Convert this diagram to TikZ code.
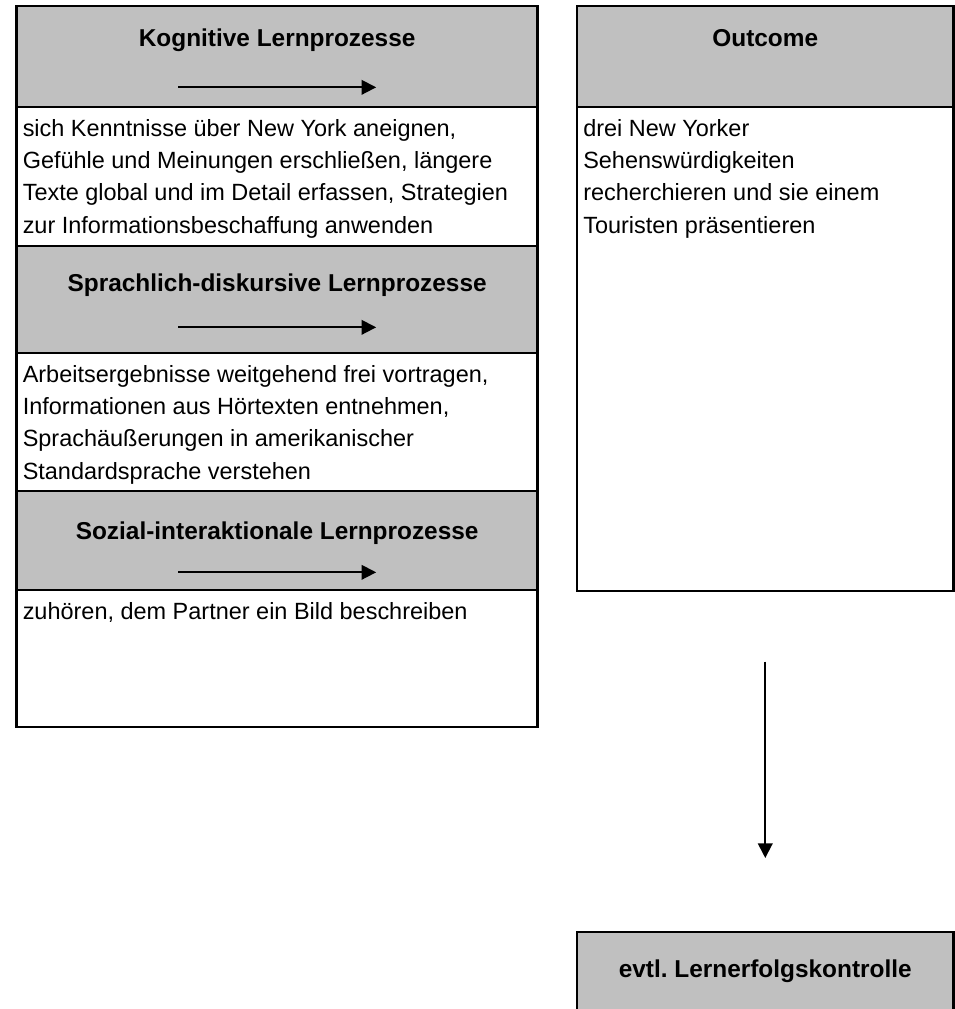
\documentclass[tikz,border=0pt]{standalone}
\usepackage{fontspec}
\setmainfont{Liberation Sans}
\usetikzlibrary{positioning,arrows.meta}
\definecolor{headgray}{RGB}{192,192,192}
\tikzset{
  cellbox/.style={draw,line width=2.2pt,outer sep=0pt,inner sep=0pt,minimum width=391pt},
  headbox/.style={cellbox,fill=headgray},
  headtitle/.style={inner sep=0pt,text height=13pt,text depth=3.5pt,font=\bfseries\fontsize{18.3}{22}\selectfont},
  bodytext/.style={anchor=north west,align=left,inner xsep=4.5pt,inner ysep=4.8pt,font=\fontsize{17.6}{24.2}\selectfont},
  harrow/.style={line width=1.4pt,-{Triangle[length=11pt,width=11pt]}},
}
\frenchspacing

\begin{document}
\begin{tikzpicture}[x=0.75pt,y=-0.75pt]
\useasboundingbox (0,0) rectangle (955,1009);
\node[headbox,anchor=north west,minimum height=75.75pt] (kog) at (16.5,6) {};
\node[cellbox,below=0pt of kog,minimum height=104.25pt] (kogtxt) {};
\node[headbox,below=0pt of kogtxt,minimum height=80.25pt] (sprach) {};
\node[cellbox,below=0pt of sprach,minimum height=103.5pt] (sprachtxt) {};
\node[headbox,below=0pt of sprachtxt,minimum height=74.25pt] (sozial) {};
\node[cellbox,below=0pt of sozial,minimum height=102.75pt] (sozialtxt) {};
\node[headbox,anchor=north west,minimum width=282.4pt,minimum height=75.75pt] (out) at (577,6) {};
\node[cellbox,below=0pt of out,minimum width=282.4pt,minimum height=363pt] (outtxt) {};
\node[headbox,anchor=north west,minimum width=282.4pt,minimum height=81pt] (kontr) at (577,932) {};
\foreach \n/\d/\t in {kog/26/Kognitive Lernprozesse,sprach/29/Sprachlich-diskursive Lernprozesse,sozial/31.3/Sozial-interaktionale Lernprozesse,out/26/Outcome,kontr/29/evtl. Lernerfolgskontrolle}
  \node[headtitle] (\n-title) at ([yshift=-\d pt]\n.north) {\t};
\foreach \n in {kog,sprach,sozial} {
  \coordinate (\n-a) at ([xshift=-74.25pt,yshift=-61pt]\n.north);
  \coordinate (\n-b) at ([xshift=74.25pt,yshift=-61pt]\n.north);
  \draw[harrow] (\n-a) -- (\n-b);
}
\node[bodytext] (kog-text) at (kogtxt.north west) {\strut sich Kenntnisse über New York aneignen,\\Gefühle und Meinungen erschließen, längere\\Texte global und im Detail erfassen, Strategien\\zur Informationsbeschaffung anwenden};
\node[bodytext] (sprach-text) at (sprachtxt.north west) {\strut Arbeitsergebnisse weitgehend frei vortragen,\\Informationen aus Hörtexten entnehmen,\\Sprachäußerungen in amerikanischer\\Standardsprache verstehen};
\node[bodytext] (sozial-text) at (sozialtxt.north west) {\strut zuhören, dem Partner ein Bild beschreiben};
\node[bodytext] (out-text) at (outtxt.north west) {\strut drei New Yorker\\Sehenswürdigkeiten\\recherchieren und sie einem\\Touristen präsentieren};
\draw[harrow,shorten <=53pt,shorten >=55.5pt] (outtxt.south) -- (kontr.north);
\end{tikzpicture}
\end{document}
